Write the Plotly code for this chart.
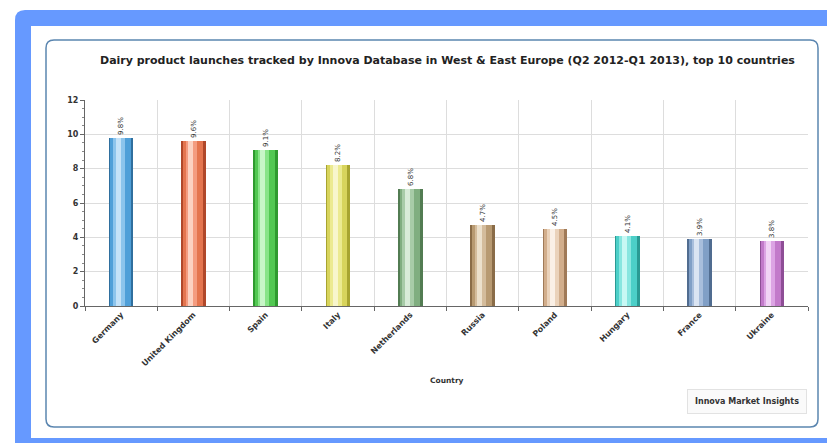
import plotly.graph_objects as go

countries = ["Germany", "United Kingdom", "Spain", "Italy", "Netherlands",
             "Russia", "Poland", "Hungary", "France", "Ukraine"]
shares = [9.8, 9.6, 9.1, 8.2, 6.8, 4.7, 4.5, 4.1, 3.9, 3.8]
labels = ["9.8%", "9.6%", "9.1%", "8.2%", "6.8%", "4.7%", "4.5%", "4.1%", "3.9%", "3.8%"]
dark_colors = ["#2f6f9e", "#b0482a", "#2f9a2f", "#a8a430", "#527c52",
               "#8a6c48", "#a07a58", "#2a9a94", "#506c90", "#8e4e96"]
mid_colors = ["#4f9fd8", "#e4754f", "#52c852", "#d8d45c", "#80ae80",
              "#b89a72", "#d2ae8c", "#4ccfc8", "#809fc6", "#c27aca"]
light_colors = ["#8cc4ec", "#f49c80", "#88e488", "#ecea90", "#a8cca8",
                "#d4bc9c", "#ead2ba", "#88e6e0", "#a8bedc", "#dca4e4"]
pale_colors = ["#c4e2f8", "#fcd2c2", "#c8f6c8", "#f8f6cc", "#d8ecd8",
               "#ece0cc", "#faf0e6", "#c8f8f4", "#dae4f2", "#f2d4f6"]

W, H = 827, 443
L, R, T, B = 85, 19, 100, 137
pw, ph = W - L - R, H - T - B


def px(x):
    return (x - L) / pw


def py(y):
    return (H - B - y) / ph


fig = go.Figure()
fig.add_trace(go.Bar(x=countries, y=shares, width=0.34,
                     marker=dict(color=dark_colors, line=dict(width=0)),
                     text=labels, textposition="outside", textangle=-90,
                     textfont=dict(size=7, color="#333333", family="DejaVu Sans"),
                     cliponaxis=False, hoverinfo="skip"))
fig.add_trace(go.Bar(x=countries, y=shares, width=0.28, offset=-0.15,
                     marker=dict(color=mid_colors, line=dict(width=0)),
                     hoverinfo="skip"))
fig.add_trace(go.Bar(x=countries, y=shares, width=0.16, offset=-0.11,
                     marker=dict(color=light_colors, line=dict(width=0)),
                     hoverinfo="skip"))
fig.add_trace(go.Bar(x=countries, y=shares, width=0.07, offset=-0.075,
                     marker=dict(color=pale_colors, line=dict(width=0)),
                     hoverinfo="skip"))


def rounded(x0, y0, x1, y1, r):
    X0, X1 = px(x0), px(x1)
    Y0, Y1 = py(y0), py(y1)
    rx, ry = r / pw, r / ph
    return (f"M {X0+rx},{Y0} L {X1-rx},{Y0} Q {X1},{Y0} {X1},{Y0-ry} "
            f"L {X1},{Y1+ry} Q {X1},{Y1} {X1-rx},{Y1} L {X0+rx},{Y1} "
            f"Q {X0},{Y1} {X0},{Y1+ry} L {X0},{Y0-ry} Q {X0},{Y0} {X0+rx},{Y0} Z")


shapes = [
    dict(type="path", path=rounded(15, 10, 845, 460, 10), xref="paper", yref="paper",
         fillcolor="#6699ff", line=dict(width=0), layer="below"),
    dict(type="rect", x0=px(31), x1=px(835), y0=py(26), y1=py(438), xref="paper", yref="paper",
         fillcolor="#ffffff", line=dict(width=0), layer="below"),
    dict(type="path", path=rounded(46, 40, 818, 427, 8), xref="paper", yref="paper",
         fillcolor="rgba(0,0,0,0)", line=dict(width=1.5, color="#5b86b0"), layer="below"),
]

annotations = [
    dict(text="<b>Dairy product launches tracked by Innova Database in West &amp; East Europe (Q2 2012-Q1 2013), top 10 countries</b>",
         x=px(447), y=py(60), xref="paper", yref="paper", showarrow=False,
         xanchor="center", yanchor="middle",
         font=dict(size=11, color="#222222", family="DejaVu Sans")),
    dict(text="<b>Country</b>", x=px(447), y=py(380), xref="paper", yref="paper",
         showarrow=False, xanchor="center", yanchor="middle",
         font=dict(size=7.5, color="#333333", family="DejaVu Sans")),
    dict(text="<b>Innova Market Insights</b>", x=px(747), y=py(401), xref="paper", yref="paper",
         showarrow=False, xanchor="center", yanchor="middle",
         font=dict(size=8, color="#333333", family="DejaVu Sans"),
         bgcolor="#fafafa", bordercolor="#e2e2e2", borderwidth=1, borderpad=7),
]

fig.update_layout(
    width=W, height=H, margin=dict(l=L, r=R, t=T, b=B),
    paper_bgcolor="#ffffff", plot_bgcolor="#ffffff",
    barmode="overlay", showlegend=False, bargap=0,
    shapes=shapes, annotations=annotations,
    font=dict(family="DejaVu Sans", color="#333333"),
)
fig.update_xaxes(type="category", tickson="boundaries", showgrid=True, gridcolor="#dddddd",
                 showline=True, linecolor="#666666", ticks="outside", ticklen=4,
                 tickcolor="#666666", tickangle=-45,
                 tickfont=dict(size=8, family="DejaVu Sans", color="#333333"),
                 ticktext=[f"<b>{c}</b>" for c in countries], tickvals=countries,
                 range=[-0.5, 9.5])
fig.update_yaxes(range=[0, 12], dtick=2, showgrid=True, gridcolor="#dddddd",
                 showline=True, linecolor="#666666", ticks="outside", ticklen=4,
                 tickcolor="#666666", zeroline=False,
                 tickfont=dict(size=8, family="DejaVu Sans", color="#333333"),
                 tickprefix="<b>", ticksuffix="</b>",
                 minor=dict(dtick=0.5, ticks="outside", ticklen=2, tickcolor="#888888", showgrid=False))

fig.write_html("out.html", config={"displayModeBar": False},
               post_script="document.body.style.margin='0';")
